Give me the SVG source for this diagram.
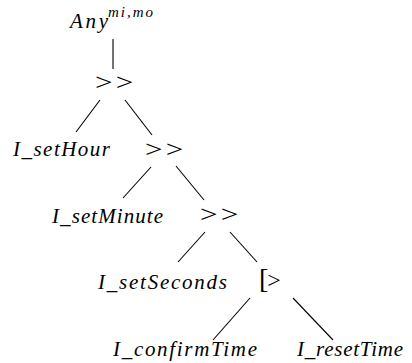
<svg xmlns="http://www.w3.org/2000/svg" width="412" height="363" viewBox="0 0 412 363">
<style>
.t{font-family:"Liberation Serif","Times New Roman",serif;font-style:italic;font-size:21px;fill:#000}
.op{font-family:"Liberation Serif","Times New Roman",serif;font-size:24px;fill:#000;letter-spacing:2.5px}
.br{font-family:"Liberation Serif","Times New Roman",serif;font-size:28px;fill:#000}
.sup{font-family:"Liberation Serif","Times New Roman",serif;font-style:italic;font-size:15px;fill:#000}
#connectors line{stroke:#000;stroke-width:1.1}
</style>
<rect width="412" height="363" fill="#fff"/>
<g id="connectors">
<line x1="113" y1="39" x2="113" y2="69"/>
<line x1="100" y1="100" x2="76" y2="132"/>
<line x1="125" y1="100" x2="152" y2="135"/>
<line x1="151" y1="167" x2="123" y2="198"/>
<line x1="176" y1="166" x2="204" y2="200"/>
<line x1="205" y1="232" x2="178" y2="262"/>
<line x1="230" y1="232" x2="257" y2="262"/>
<line x1="250" y1="298" x2="213" y2="340"/>
<line x1="293" y1="298" x2="333" y2="340"/>
</g>
<g id="n-any"><text class="t" x="70" y="28" textLength="38" lengthAdjust="spacing">Any</text><text class="sup" x="108" y="17" textLength="45" lengthAdjust="spacing">mi,mo</text></g>
<g id="n-seq1"><text class="op" transform="translate(95,90) scale(1.3,1)">&gt;&gt;</text></g>
<g id="n-sethour"><text class="t" x="13" y="156" textLength="97" lengthAdjust="spacing">I_setHour</text></g>
<g id="n-seq2"><text class="op" transform="translate(145,157) scale(1.3,1)">&gt;&gt;</text></g>
<g id="n-setminute"><text class="t" x="52" y="223" textLength="111" lengthAdjust="spacing">I_setMinute</text></g>
<g id="n-seq3"><text class="op" transform="translate(200,222) scale(1.3,1)">&gt;&gt;</text></g>
<g id="n-setseconds"><text class="t" x="98" y="289" textLength="129" lengthAdjust="spacing">I_setSeconds</text></g>
<g id="n-disable"><text x="259" y="288"><tspan class="br">[</tspan><tspan class="op" dx="-1">&gt;</tspan></text></g>
<g id="n-confirm"><text class="t" x="113" y="356" textLength="144" lengthAdjust="spacing">I_confirmTime</text></g>
<g id="n-reset"><text class="t" x="297" y="356" textLength="106" lengthAdjust="spacing">I_resetTime</text></g>
</svg>
